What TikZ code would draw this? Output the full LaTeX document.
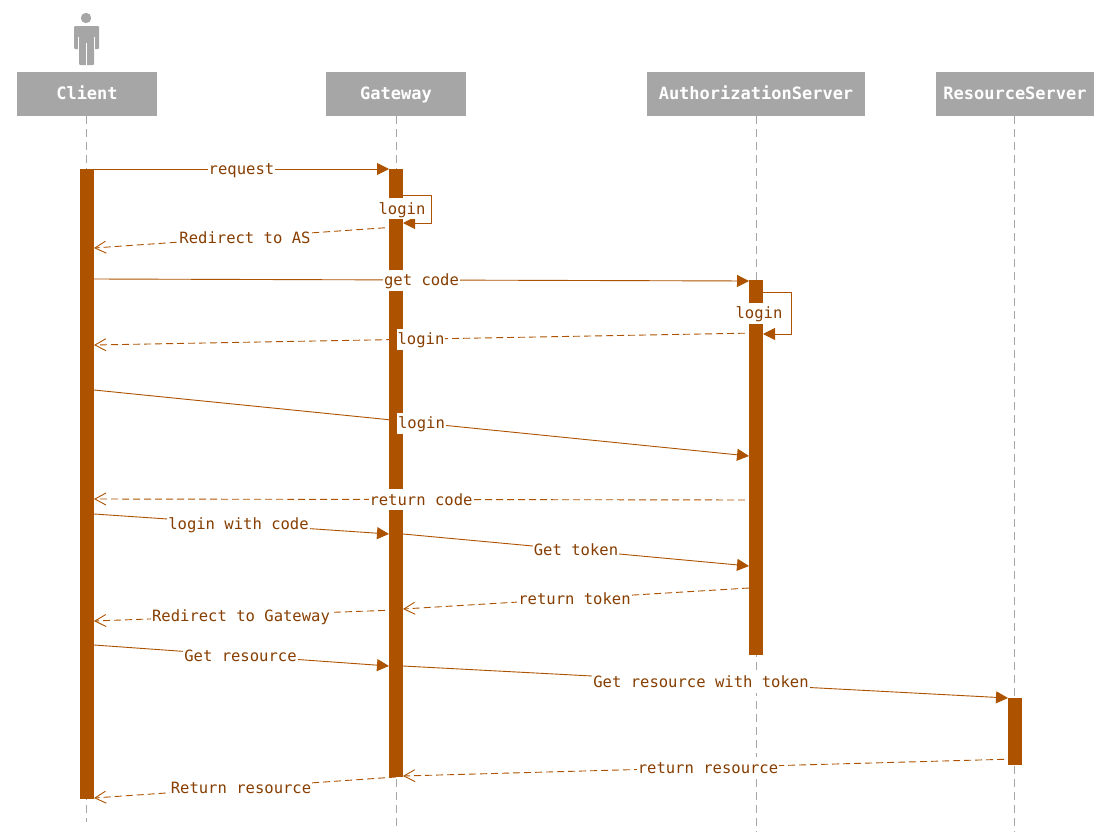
\documentclass[tikz,border=0pt]{standalone}
\usepackage{fontspec}
\setmonofont{DejaVu Sans Mono}
\usetikzlibrary{arrows.meta,positioning}
\definecolor{barbrown}{RGB}{173,83,0}
\definecolor{txtbrown}{RGB}{135,62,0}
\definecolor{headgray}{RGB}{166,166,166}

\begin{document}
\begin{tikzpicture}[x=1pt, y=-1pt,
    head/.style={fill=headgray, text=white, minimum height=44pt, inner sep=0pt,
      text height=14pt, text depth=3pt,
      font=\ttfamily\bfseries\fontsize{17}{20}\selectfont},
    life/.style={headgray, line width=0.8pt, dash pattern=on 8pt off 5pt},
    bar/.style={fill=barbrown, minimum width=14pt, inner sep=0pt},
    msg/.style={barbrown, line width=0.9pt, -{Triangle[length=12pt,width=12pt]}},
    ret/.style={barbrown, line width=0.9pt, dash pattern=on 7pt off 4pt,
      -{Straight Barb[length=11pt,width=12pt]}},
    lbl/.style={fill=white, text=txtbrown, inner xsep=1pt, inner ysep=0pt, minimum height=21pt,
      text height=14pt, text depth=3pt,
      font=\ttfamily\fontsize{15.55}{18}\selectfont}]
  \useasboundingbox (0,0) rectangle (1116,835);

  % Actor
  \fill[headgray] (86,18) circle (5.2);
  \fill[headgray, rounded corners=1pt] (74,49) -- (74,26) -- (99,26) -- (99,49) -- (94,49)
    -- (94,65) -- (79,65) -- (79,49) -- cycle;
  \draw[white, line width=0.8pt] (78.2,37) -- (78.2,49.5) (94.8,37) -- (94.8,49.5) (86.5,43) -- (86.5,65.5);

  % Heads
  \node[head, minimum width=140pt] (client) at (87,94) {Client};
  \node[head, minimum width=140pt] (gateway) at (396,94) {Gateway};
  \node[head, minimum width=218pt] (authServer) at (756,94) {AuthorizationServer};
  \node[head, minimum width=158pt] (resServer) at (1015,94) {ResourceServer};

  % Lifelines
  \coordinate (clientEnd) at (86,822);
  \coordinate (gatewayEnd) at (396,826);
  \coordinate (authEnd) at (756,832);
  \coordinate (resEnd) at (1014,832);
  \draw[life] (client.south -| clientEnd) -- (clientEnd);
  \draw[life] (gateway.south) -- (gatewayEnd);
  \draw[life] (authServer.south) -- (authEnd);
  \draw[life] (resServer.south -| resEnd) -- (resEnd);

  % Activation bars
  \node[bar, minimum height=630pt] (barClient) at (87,484) {};
  \node[bar, minimum height=608pt] (barGateway) at (396,473) {};
  \node[bar, minimum height=375pt] (barAuth) at (756,467.5) {};
  \node[bar, minimum height=67pt] (barRes) at (1015,731.5) {};

  % Message ends
  \coordinate (requestA) at (94,169);
  \coordinate (requestB) at (389,169);
  \coordinate (loopGwA) at (403,195);
  \coordinate (loopGwB) at (403,223);
  \coordinate (redirAsA) at (396,227);
  \coordinate (redirAsB) at (94,248);
  \coordinate (codeA) at (94,279);
  \coordinate (codeB) at (749,281);
  \coordinate (loopAsA) at (756,292);
  \coordinate (loopAsB) at (763,334);
  \coordinate (loginBackA) at (756,333);
  \coordinate (loginBackB) at (94,345);
  \coordinate (loginA) at (94,390);
  \coordinate (loginB) at (749,456);
  \coordinate (retCodeA) at (756,500);
  \coordinate (retCodeB) at (94,499);
  \coordinate (withCodeA) at (94,514);
  \coordinate (withCodeB) at (389,534);
  \coordinate (tokenA) at (403,534);
  \coordinate (tokenB) at (749,566);
  \coordinate (retTokenA) at (749,588);
  \coordinate (retTokenB) at (403,609);
  \coordinate (redirGwA) at (396,610);
  \coordinate (redirGwB) at (94,621);
  \coordinate (resourceA) at (94,645);
  \coordinate (resourceB) at (389,666);
  \coordinate (withTokenA) at (403,666);
  \coordinate (withTokenB) at (1008,698);
  \coordinate (retResA) at (1015,759);
  \coordinate (retResB) at (403,776);
  \coordinate (returnA) at (396,777);
  \coordinate (returnB) at (94,798);

  % Messages
  \draw[msg] (requestA) -- node[lbl] (lblRequest) {request} (requestB);
  \draw[msg] (loopGwA) -- ++(28,0) |- (loopGwB);
  \node[lbl] (lblLoopGw) at (402,208.5) {login};
  \draw[ret] (redirAsA) -- node[lbl] (lblRedirAs) {Redirect to AS} (redirAsB);
  \draw[msg] (codeA) -- node[lbl] (lblCode) {get code} (codeB);
  \draw[msg] (loopAsA) -- ++(35,0) |- (loopAsB);
  \node[lbl] (lblLoopAs) at (759,313) {login};
  \draw[ret] (loginBackA) -- node[lbl, xshift=-4pt] (lblLoginBack) {login} (loginBackB);
  \draw[msg] (loginA) -- node[lbl] (lblLogin) {login} (loginB);
  \draw[ret] (retCodeA) -- node[lbl, xshift=-4pt] (lblRetCode) {return code} (retCodeB);
  \draw[msg] (withCodeA) -- node[lbl, xshift=-3pt] (lblWithCode) {login with code} (withCodeB);
  \draw[msg] (tokenA) -- node[lbl] (lblToken) {Get token} (tokenB);
  \draw[ret] (retTokenA) -- node[lbl, xshift=-1.5pt] (lblRetToken) {return token} (retTokenB);
  \draw[ret] (redirGwA) -- node[lbl, xshift=-4pt] (lblRedirGw) {Redirect to Gateway} (redirGwB);
  \draw[msg] (resourceA) -- node[lbl, xshift=-1pt] (lblResource) {Get resource} (resourceB);
  \draw[msg] (withTokenA) -- node[lbl, xshift=-4.5pt] (lblWithToken) {Get resource with token} (withTokenB);
  \draw[ret] (retResA) -- node[lbl, xshift=-1pt] (lblRetRes) {return resource} (retResB);
  \draw[ret] (returnA) -- node[lbl, xshift=-4pt] (lblReturn) {Return resource} (returnB);
\end{tikzpicture}
\end{document}
